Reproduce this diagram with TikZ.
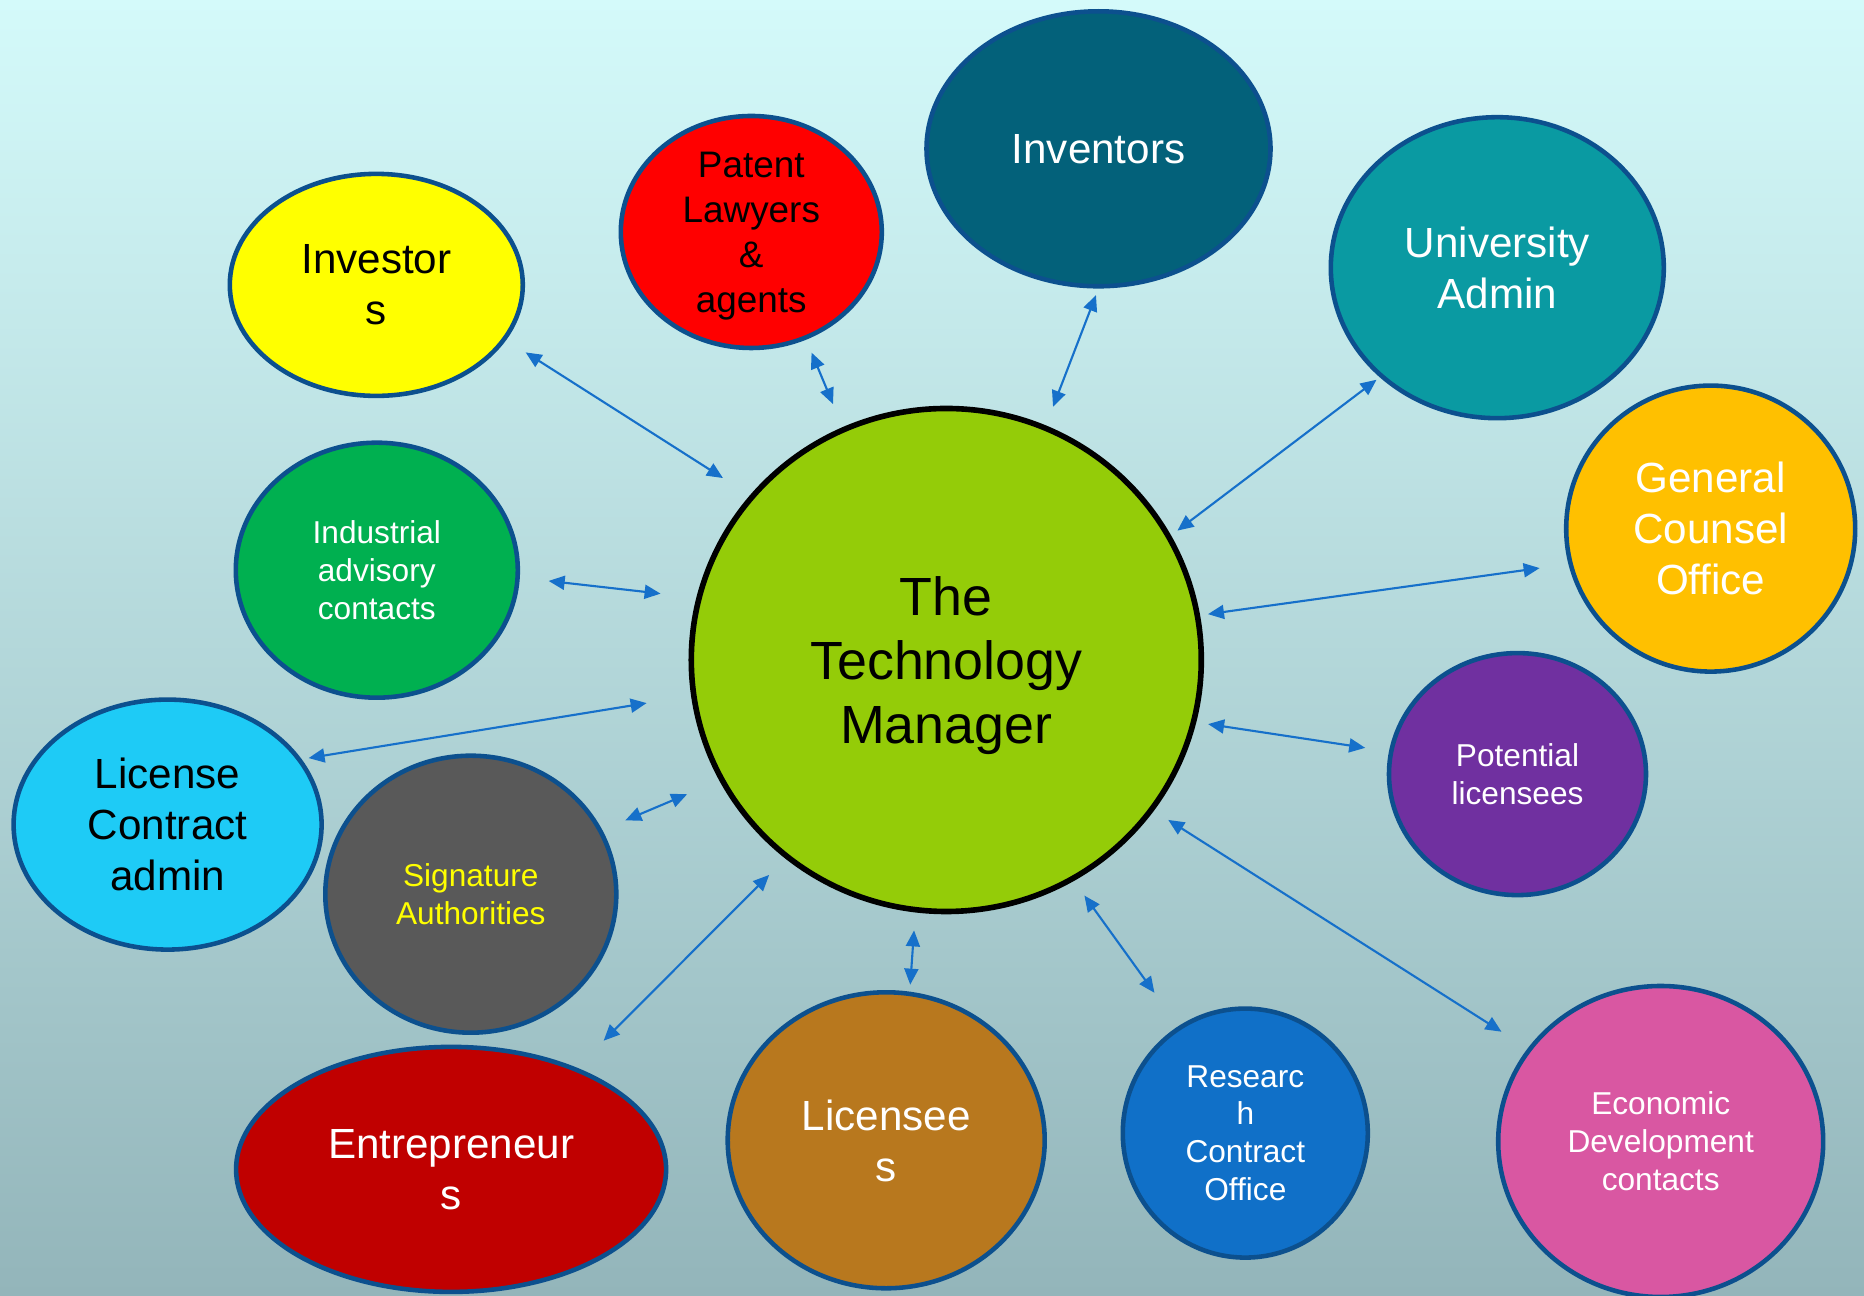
\documentclass[tikz,border=0pt]{standalone}
\usepackage{fontspec}
\setmainfont{Liberation Sans}
\usepackage{xcolor}
\definecolor{bgtop}{RGB}{212,250,250}
\definecolor{bgbottom}{RGB}{147,181,186}
\definecolor{myborder}{RGB}{12,80,142}
\definecolor{myarrow}{RGB}{22,112,202}
\definecolor{mylime}{RGB}{148,204,8}
\definecolor{myyellow}{RGB}{255,255,0}
\definecolor{myred}{RGB}{255,0,0}
\definecolor{mypetrol}{RGB}{3,97,122}
\definecolor{myteal}{RGB}{10,154,162}
\definecolor{myorange}{RGB}{255,192,0}
\definecolor{mypurple}{RGB}{112,48,160}
\definecolor{mypink}{RGB}{217,87,162}
\definecolor{myblue}{RGB}{16,112,200}
\definecolor{mybrown}{RGB}{184,120,30}
\definecolor{mydarkred}{RGB}{192,0,0}
\definecolor{mygrey}{RGB}{89,89,89}
\definecolor{mylightblue}{RGB}{30,203,246}
\definecolor{mygreen}{RGB}{0,176,80}
\usepackage{tikz}
\usetikzlibrary{shapes.geometric}
\usetikzlibrary{arrows.meta}
\newcommand{\sizehuge}{\fontsize{15.3pt}{18.2pt}\selectfont}
\newcommand{\sizebig}{\fontsize{12pt}{14.5pt}\selectfont}
\newcommand{\sizemid}{\fontsize{10.5pt}{12.8pt}\selectfont}
\newcommand{\sizesmall}{\fontsize{9pt}{10.8pt}\selectfont}
\tikzset{
    bubble/.style={ellipse, draw=myborder, line width=1.3pt, align=center, inner sep=2pt, text depth=0pt},
    bigbubble/.style={bubble, font=\sizebig, text depth=-0.7mm},
    smallbubble/.style={bubble, font=\sizesmall},
    dims/.style 2 args={minimum width=#1, minimum height=#2},
    link/.style={{Triangle[length=1.6mm, width=1.4mm]}-{Triangle[length=1.6mm, width=1.4mm]}, draw=myarrow, line width=0.6pt}
}

\begin{document}
\begin{tikzpicture}
      \useasboundingbox (0,0) rectangle (18.64,12.96);
      \shade[top color=bgtop, bottom color=bgbottom] (0,0) rectangle (18.64,12.96);

      \node[ellipse, draw=black, line width=1.6pt, fill=mylime, dims={5.10cm}{5.03cm},
            align=center, text depth=0pt, font=\sizehuge] (tm) at (9.463,6.360) {The\\Technology\\Manager};

      \node[bigbubble, fill=myyellow, dims={2.93cm}{2.22cm}] (investors) at (3.763,10.111) {Investor\\s};
      \node[bubble, font=\sizemid, fill=myred, inner ysep=-1mm, dims={2.61cm}{2.32cm}] (patent) at (7.513,10.640) {Patent\\Lawyers\\\&\\agents};
      \node[bigbubble, fill=mypetrol, text=white, dims={3.44cm}{2.75cm}] (inventors) at (10.985,11.472) {Inventors};
      \node[bigbubble, fill=myteal, text=white, dims={3.33cm}{3.01cm}] (university) at (14.973,10.283) {University\\Admin};
      \node[bigbubble, fill=myorange, text=white, dims={2.89cm}{2.86cm}] (counsel) at (17.107,7.674) {General\\Counsel\\Office};
      \node[smallbubble, fill=mypurple, text=white, dims={2.57cm}{2.42cm}] (potential) at (15.175,5.219) {Potential\\licensees};
      \node[smallbubble, fill=mypink, text=white, dims={3.25cm}{3.11cm}] (economic) at (16.607,1.545) {Economic\\Development\\contacts};
      \node[smallbubble, fill=myblue, text=white, dims={2.45cm}{2.49cm}] (research) at (12.453,1.629) {Researc\\h\\Contract\\Office};
      \node[bigbubble, fill=mybrown, text=white, dims={3.17cm}{2.96cm}] (licensees) at (8.862,1.557) {Licensee\\s};
      \node[bigbubble, fill=mydarkred, text=white, dims={4.30cm}{2.45cm}] (entrepreneurs) at (4.511,1.266) {Entrepreneur\\s};
      \node[smallbubble, fill=mygrey, text=myyellow, dims={2.91cm}{2.77cm}] (signature) at (4.708,4.018) {Signature\\Authorities};
      \node[bigbubble, fill=mylightblue, dims={3.08cm}{2.50cm}] (license) at (1.676,4.714) {License\\Contract\\admin};
      \node[smallbubble, fill=mygreen, text=white, dims={2.82cm}{2.55cm}] (industrial) at (3.768,7.258) {Industrial\\advisory\\contacts};

      \draw[link, shorten <=2.3mm, shorten >=3.2mm] (investors.-23.5) -- (tm.140.4);
      \draw[link, shorten <=1.4mm, shorten >=2.5mm] (patent.-63.7) -- (tm.114.4);
      \draw[link, shorten <=0.7mm, shorten >=2mm] (inventors.-90) -- (tm.67.6);
      \draw[link, shorten <=0.4mm, shorten >=0.8mm] (university.-137.5) -- (tm.29.3);
      \draw[link, shorten <=2.9mm, shorten >=0.8mm] (counsel.-166.1) -- (tm.10.2);
      \draw[link, shorten <=2.4mm, shorten >=1.2mm] (potential.170.6) -- (tm.-14);
      \draw[link, shorten <=3.1mm, shorten >=1.7mm] (economic.145.3) -- (tm.-36.8);
      \draw[link, shorten <=4.1mm, shorten >=1.8mm] (research.122) -- (tm.-60);
      \draw[link, shorten <=0.7mm, shorten >=1.8mm] (licensees.81.5) -- (tm.-97.1);
      \draw[link, shorten <=3.8mm, shorten >=2.3mm] (entrepreneurs.39.2) -- (tm.-129.6);
      \draw[link, shorten <=2.5mm, shorten >=3.5mm] (signature.26) -- (tm.-152.3); % short one
      \draw[link, shorten <=0.7mm, shorten >=4.5mm] (license.26.6) -- (tm.-172.4);
      \draw[link, shorten <=2.9mm, shorten >=3.6mm] (industrial.-3) -- (tm.166.7);

\end{tikzpicture}
\end{document}
